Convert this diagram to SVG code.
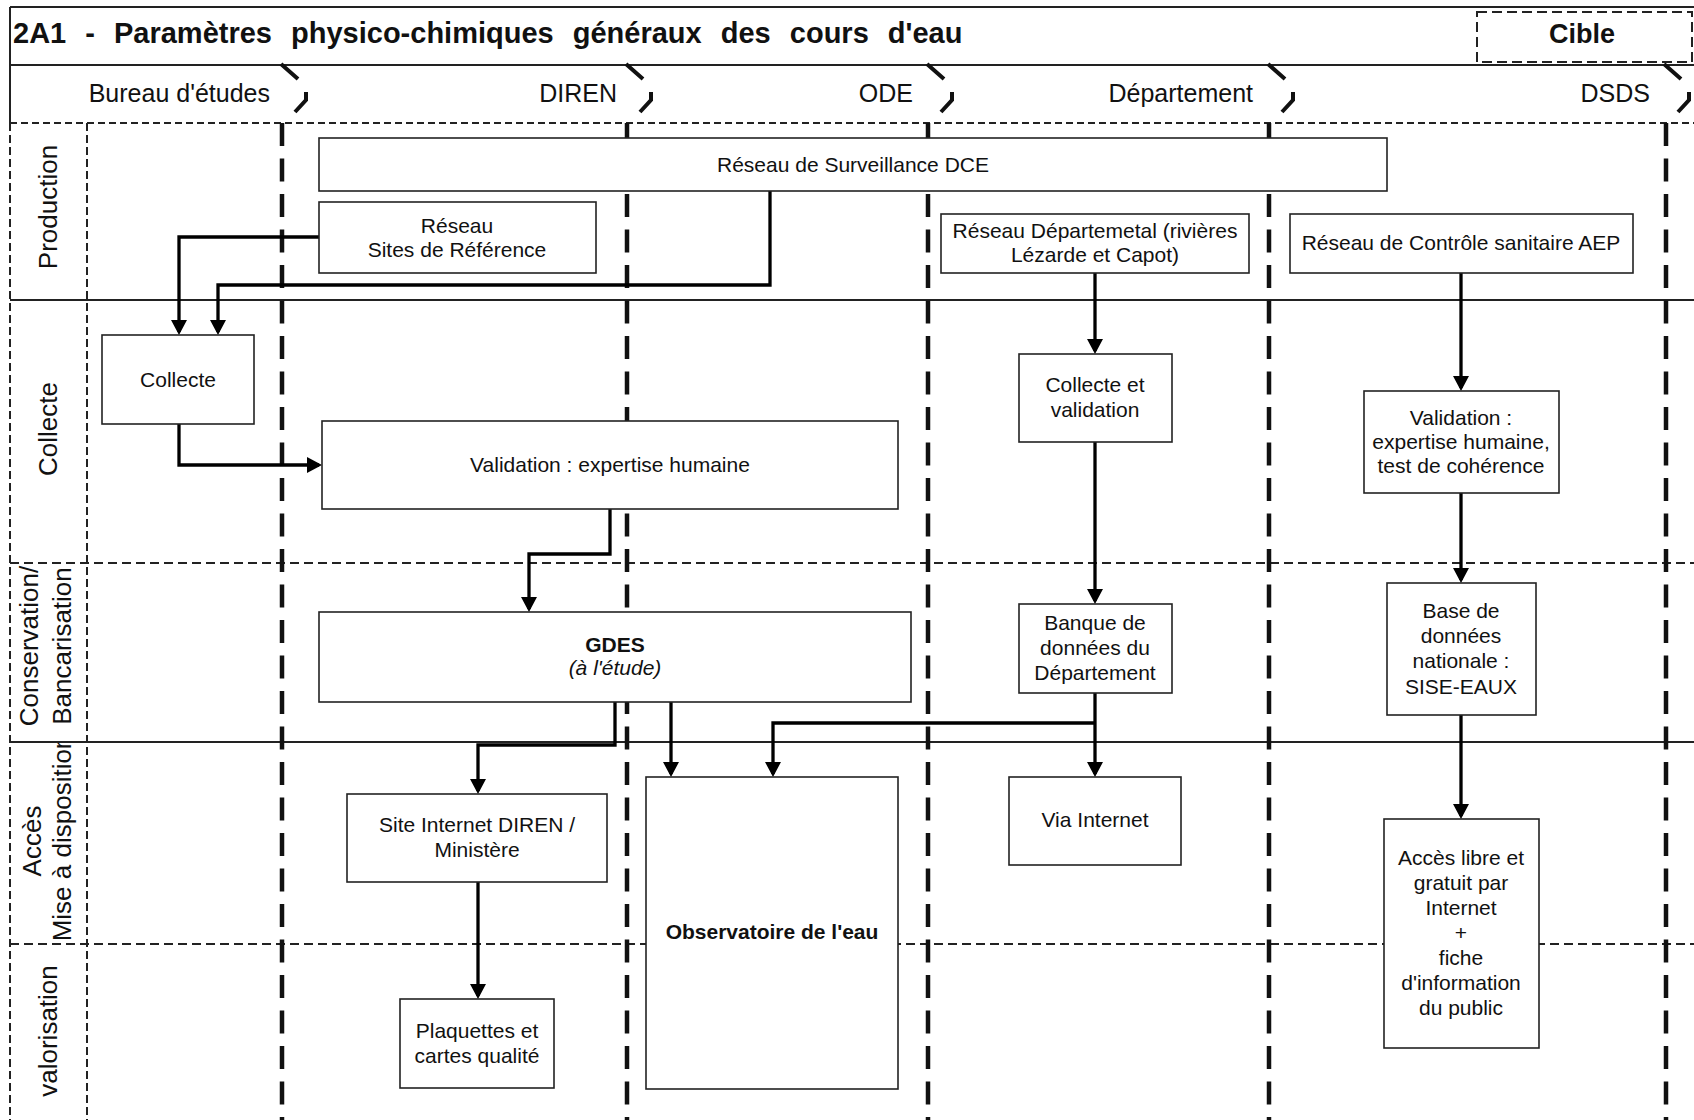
<svg xmlns="http://www.w3.org/2000/svg" width="1694" height="1120" viewBox="0 0 1694 1120">
<style>
  text{font-family:"Liberation Sans",Arial,Helvetica,sans-serif;fill:#111}
  .box{fill:#fff;stroke:#222;stroke-width:1.6}
  .bt{font-size:21px;text-anchor:middle}
  .lane{stroke:#111;stroke-width:4.5;stroke-dasharray:23 12.5;fill:none}
  .mark{stroke:#111;stroke-width:4;fill:none;stroke-linecap:butt}
  .conn{stroke:#000;stroke-width:3.3;fill:none;stroke-linejoin:miter;marker-end:url(#arr)}
  .solid{stroke:#222;stroke-width:2;fill:none}
  .dash{stroke:#222;stroke-width:2;stroke-dasharray:9 5;fill:none}
  .cdash{stroke:#222;stroke-width:2;stroke-dasharray:8 4;fill:none}
  .ln{font-size:25px;text-anchor:end}
  .rl{font-size:26px;text-anchor:middle}
</style>
<defs>
  <marker id="arr" markerUnits="userSpaceOnUse" viewBox="0 0 15 16" refX="12" refY="8" markerWidth="15" markerHeight="16" orient="auto">
    <path d="M0,0 L15,8 L0,16 z" fill="#000"/>
  </marker>
  <clipPath id="clipAcc" clipPathUnits="userSpaceOnUse">
    <rect x="10" y="743" width="77" height="201"/>
  </clipPath>
</defs>
<rect x="0" y="0" width="1694" height="1120" fill="#fff"/>

<g id="frame">
  <line class="solid" x1="10" y1="7" x2="1694" y2="7"/>
  <line class="solid" x1="10" y1="7" x2="10" y2="123"/>
  <line class="solid" x1="10" y1="65" x2="1694" y2="65"/>
  <line class="dash" x1="10" y1="123" x2="1694" y2="123" style="stroke-dasharray:7 4"/>
  <line class="solid" x1="10" y1="300" x2="1694" y2="300"/>
  <line class="dash" x1="10" y1="563" x2="1694" y2="563"/>
  <line class="solid" x1="10" y1="742" x2="1694" y2="742"/>
  <line class="dash" x1="10" y1="944" x2="1694" y2="944"/>
  <line class="cdash" x1="10" y1="123" x2="10" y2="1120"/>
  <line class="cdash" x1="87" y1="123" x2="87" y2="1120"/>
  <rect x="1477" y="12" width="215" height="50" fill="none" stroke="#222" stroke-width="2" stroke-dasharray="10 5"/>
  <text x="13" y="43" font-size="29" font-weight="bold" word-spacing="11">2A1 - Paramètres physico-chimiques généraux des cours d'eau</text>
  <text x="1582" y="43" font-size="27" font-weight="bold" text-anchor="middle">Cible</text>
</g>

<g id="lanes">
  <line class="lane" x1="282" y1="123" x2="282" y2="1120"/>
  <line class="lane" x1="627" y1="123" x2="627" y2="1120"/>
  <line class="lane" x1="928" y1="123" x2="928" y2="1120"/>
  <line class="lane" x1="1269" y1="123" x2="1269" y2="1120"/>
  <line class="lane" x1="1666" y1="123" x2="1666" y2="1120"/>
  <path class="mark" d="M281,64 L298,79 M306,92 L306,100 L295,112"/>
  <path class="mark" d="M626,64 L643,79 M651,92 L651,100 L640,112"/>
  <path class="mark" d="M927,64 L944,79 M952,92 L952,100 L941,112"/>
  <path class="mark" d="M1268,64 L1285,79 M1293,92 L1293,100 L1282,112"/>
  <path class="mark" d="M1664,64 L1681,79 M1689,92 L1689,100 L1678,112"/>
  <text class="ln" x="270" y="102">Bureau d'études</text>
  <text class="ln" x="617" y="102">DIREN</text>
  <text class="ln" x="913" y="102">ODE</text>
  <text class="ln" x="1253" y="102">Département</text>
  <text class="ln" x="1650" y="102">DSDS</text>
</g>

<g id="rows">
  <text class="rl" transform="translate(57,207) rotate(-90)">Production</text>
  <text class="rl" transform="translate(57,429) rotate(-90)">Collecte</text>
  <text class="rl" transform="translate(38,646) rotate(-90)">Conservation/</text>
  <text class="rl" transform="translate(71,646) rotate(-90)">Bancarisation</text>
  <text class="rl" transform="translate(41,841) rotate(-90)">Accès</text>
  <g clip-path="url(#clipAcc)">
    <text class="rl" transform="translate(71,838) rotate(-90)">Mise à disposition</text>
  </g>
  <text class="rl" transform="translate(57,1031) rotate(-90)">valorisation</text>
</g>

<g id="connectors">
  <path class="conn" d="M319,237 L179,237 L179,332"/>
  <path class="conn" d="M770,191 L770,285 L218,285 L218,332"/>
  <path class="conn" d="M179,424 L179,465 L319,465"/>
  <path class="conn" d="M610,509 L610,554 L529,554 L529,609"/>
  <path class="conn" d="M615,702 L615,745 L478,745 L478,791"/>
  <path class="conn" d="M671,702 L671,774"/>
  <path class="conn" d="M1095,273 L1095,351"/>
  <path class="conn" d="M1095,442 L1095,601"/>
  <path class="conn" d="M1095,693 L1095,774"/>
  <path class="conn" d="M1095,723 L773,723 L773,774"/>
  <path class="conn" d="M1461,273 L1461,388"/>
  <path class="conn" d="M1461,493 L1461,580"/>
  <path class="conn" d="M1461,715 L1461,816"/>
  <path class="conn" d="M478,882 L478,996"/>
</g>

<g id="n-dce">
  <rect class="box" x="319" y="138" width="1068" height="53"/>
  <text class="bt" x="853" y="172">Réseau de Surveillance DCE</text>
</g>
<g id="n-sites">
  <rect class="box" x="319" y="202" width="277" height="71"/>
  <text class="bt" x="457" y="233">Réseau</text>
  <text class="bt" x="457" y="257">Sites de Référence</text>
</g>
<g id="n-resdep">
  <rect class="box" x="941" y="214" width="308" height="59"/>
  <text class="bt" x="1095" y="238">Réseau Départemetal (rivières</text>
  <text class="bt" x="1095" y="262">Lézarde et Capot)</text>
</g>
<g id="n-aep">
  <rect class="box" x="1290" y="214" width="343" height="59"/>
  <text class="bt" x="1461" y="250">Réseau de Contrôle sanitaire AEP</text>
</g>
<g id="n-collecte">
  <rect class="box" x="102" y="335" width="152" height="89"/>
  <text class="bt" x="178" y="387">Collecte</text>
</g>
<g id="n-validation">
  <rect class="box" x="322" y="421" width="576" height="88"/>
  <text class="bt" x="610" y="472">Validation : expertise humaine</text>
</g>
<g id="n-collval">
  <rect class="box" x="1019" y="354" width="153" height="88"/>
  <text class="bt" x="1095" y="392">Collecte et</text>
  <text class="bt" x="1095" y="417">validation</text>
</g>
<g id="n-valdsds">
  <rect class="box" x="1364" y="391" width="195" height="102"/>
  <text class="bt" x="1461" y="425">Validation :</text>
  <text class="bt" x="1461" y="449">expertise humaine,</text>
  <text class="bt" x="1461" y="473">test de cohérence</text>
</g>
<g id="n-gdes">
  <rect class="box" x="319" y="612" width="592" height="90"/>
  <text class="bt" x="615" y="652" font-weight="bold">GDES</text>
  <text class="bt" x="615" y="675" font-style="italic">(à l'étude)</text>
</g>
<g id="n-banque">
  <rect class="box" x="1019" y="604" width="153" height="89"/>
  <text class="bt" x="1095" y="630">Banque de</text>
  <text class="bt" x="1095" y="655">données du</text>
  <text class="bt" x="1095" y="680">Département</text>
</g>
<g id="n-base">
  <rect class="box" x="1387" y="583" width="149" height="132"/>
  <text class="bt" x="1461" y="618">Base de</text>
  <text class="bt" x="1461" y="643">données</text>
  <text class="bt" x="1461" y="668">nationale :</text>
  <text class="bt" x="1461" y="694">SISE-EAUX</text>
</g>
<g id="n-site">
  <rect class="box" x="347" y="794" width="260" height="88"/>
  <text class="bt" x="477" y="832">Site Internet DIREN /</text>
  <text class="bt" x="477" y="857">Ministère</text>
</g>
<g id="n-obs">
  <rect class="box" x="646" y="777" width="252" height="312"/>
  <text class="bt" x="772" y="939" font-weight="bold">Observatoire de l'eau</text>
</g>
<g id="n-via">
  <rect class="box" x="1009" y="777" width="172" height="88"/>
  <text class="bt" x="1095" y="827">Via Internet</text>
</g>
<g id="n-acces">
  <rect class="box" x="1384" y="819" width="155" height="229"/>
  <text class="bt" x="1461" y="865">Accès libre et</text>
  <text class="bt" x="1461" y="890">gratuit par</text>
  <text class="bt" x="1461" y="915">Internet</text>
  <text class="bt" x="1461" y="940">+</text>
  <text class="bt" x="1461" y="965">fiche</text>
  <text class="bt" x="1461" y="990">d'information</text>
  <text class="bt" x="1461" y="1015">du public</text>
</g>
<g id="n-plaq">
  <rect class="box" x="400" y="999" width="154" height="89"/>
  <text class="bt" x="477" y="1038">Plaquettes et</text>
  <text class="bt" x="477" y="1063">cartes qualité</text>
</g>
</svg>
